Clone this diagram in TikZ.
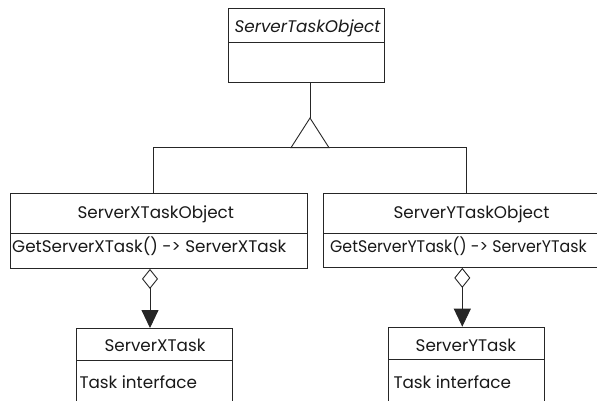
\documentclass[tikz,border=0pt]{standalone}
\usepackage{fontspec}
\setmainfont{Poppins}
\usetikzlibrary{arrows.meta}
\begin{document}
\begin{tikzpicture}[x=1pt,y=-1pt,
  line/.style={draw=black!85, line width=0.9pt},
  cls/.style={line, inner sep=0pt, anchor=north west},
  lbl/.style={inner sep=0pt, font=\fontsize{16.8}{19}\selectfont, text=black!90},
  agg/.style={line, {Diamond[open,length=20pt,width=16pt]}-{Triangle[length=18pt,width=17pt]}},
]
\useasboundingbox (0,0) rectangle (597,401);
\clip (0,0) rectangle (597,401);

% abstract base class
\node[cls, minimum width=156.5pt, minimum height=33.4pt] (topHead) at (227.5,8.3) {};
\node[cls, minimum width=156.5pt, minimum height=40pt] (topBody) at (227.5,41.7) {};
\node[lbl, font=\fontsize{16.8}{19}\selectfont\itshape, anchor=base] (topName) at (307.5,32.7) {ServerTaskObject};

% concrete task objects
\node[cls, minimum width=297pt, minimum height=39.7pt] (xHead) at (10,193.3) {};
\node[cls, minimum width=297pt, minimum height=35pt] (xBody) at (10,233) {};
\node[lbl, anchor=base] (xName) at (155.8,218.3) {ServerXTaskObject};
\node[lbl, anchor=base west] (xOp) at (12,252.7) {GetServerXTask() -> ServerXTask};

\node[cls, minimum width=300pt, minimum height=40.3pt] (yHead) at (322.7,192.7) {};
\node[cls, minimum width=300pt, minimum height=34pt] (yBody) at (322.7,233) {};
\node[lbl, anchor=base] (yName) at (471.5,218.3) {ServerYTaskObject};
\node[lbl, anchor=base west] (yOp) at (330,252.7) {\scalebox{0.94}[1]{GetServerYTask() -> ServerYTask}};

% task classes
\node[cls, minimum width=156pt, minimum height=32pt] (sxHead) at (75.7,328) {};
\node[cls, minimum width=156pt, minimum height=60pt] (sxBody) at (75.7,360) {};
\node[lbl, anchor=base] (sxName) at (155,351.7) {ServerXTask};
\node[lbl, anchor=base west] (sxOp) at (79.3,388.3) {Task interface};

\node[cls, minimum width=156pt, minimum height=32.3pt] (syHead) at (388,326.7) {};
\node[cls, minimum width=156pt, minimum height=60pt] (syBody) at (388,359) {};
\node[lbl, anchor=base] (syName) at (465.8,351.7) {ServerYTask};
\node[lbl, anchor=base west] (syOp) at (393.3,388.3) {Task interface};

% generalization
\coordinate (genApex) at (310,118);
\coordinate (genL) at (291,147.7);
\coordinate (genR) at (329,147.7);
\coordinate (busL) at (153.7,147.7);
\coordinate (busR) at (466,147.7);
\draw[line] (topBody.south -| genApex) -- (genApex);
\draw[line] (genApex) -- (genL) -- (genR) -- cycle;
\draw[line] (xHead.north -| busL) -- (busL) -- (busR) -- (yHead.north -| busR);

% aggregations
\coordinate (xAgg) at (150,0);
\coordinate (yAgg) at (462.3,0);
\draw[agg] (xBody.south -| xAgg) -- (sxHead.north -| xAgg);
\draw[agg] (yBody.south -| yAgg) -- (syHead.north -| yAgg);
\end{tikzpicture}
\end{document}
